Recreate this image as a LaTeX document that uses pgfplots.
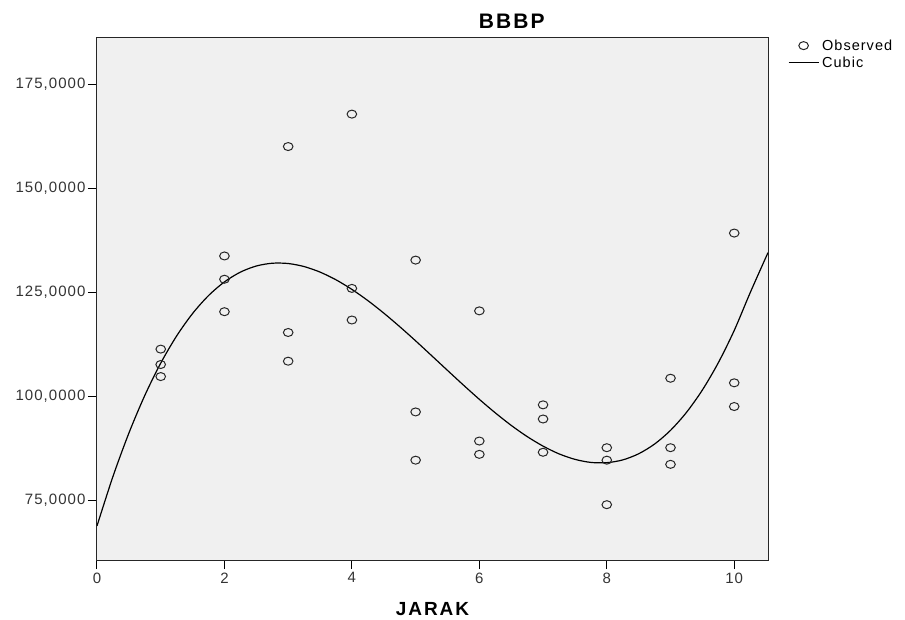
\documentclass[border=0pt]{standalone}
\usepackage{fontspec}
\setmainfont{Liberation Sans}
\newfontfamily\spss[LetterSpace=7]{Liberation Sans}
\newfontfamily\spsstitle[LetterSpace=10]{Liberation Sans}
\usepackage{pgfplots}
\pgfplotsset{compat=1.18}

\definecolor{panel}{RGB}{240,240,240}

\begin{document}
\begin{tikzpicture}
\begin{axis}[
  scale only axis,
  width=671pt, height=522pt,
  xmin=0, xmax=10.53, ymin=60.6, ymax=186.1,
  axis background/.style={fill=panel},
  axis line style={line width=1pt, black!85},
  tick align=outside, major tick length=9pt,
  tick style={line width=1pt, black},
  xtick={0,2,4,6,8,10},
  ytick={75,100,125,150,175},
  yticklabels={{75,0000},{100,0000},{125,0000},{150,0000},{175,0000}},
  xtick pos=bottom, ytick pos=left,
  minor tick num=0,
  tick label style={font=\spss\fontsize{15}{17}\selectfont, black!80},
  yticklabel style={xshift=1pt},
  /pgf/number format/assume math mode=true,
  title={\spsstitle\fontsize{21}{23}\selectfont\bfseries BBBP},
  title style={at={(axis description cs:0.618,1)}, anchor=base, yshift=3.7pt, inner sep=0pt},
  xlabel={\spsstitle\fontsize{19}{21}\selectfont\bfseries JARAK},
  xlabel style={at={(axis description cs:0.5,0)}, anchor=base, yshift=-55pt, inner sep=0pt},
  legend style={at={(axis description cs:1.028,1.003)}, anchor=north west, draw=none, fill=none,
    font=\spss\fontsize{14.5}{16}\selectfont, row sep=1pt, inner sep=1pt,
    nodes={inner xsep=3pt}},
  legend cell align=left,
  clip=true,
]
% observed values
\addplot[only marks, mark=o, mark size=4pt, mark options={xscale=1.2, line width=1pt, black!85},
  legend image code/.code={\draw[mark=o, mark size=4pt, mark options={xscale=1.2, line width=1pt, black!85}]
    plot coordinates {(15pt,0pt)};}]
  coordinates {
  (1,111.3) (1,107.6) (1,104.7)
  (2,133.7) (2,128.1) (2,120.3)
  (3,160.0) (3,115.3) (3,108.4)
  (4,167.8) (4,125.9) (4,118.3)
  (5,132.7) (5,96.2) (5,84.6)
  (6,120.5) (6,89.2) (6,86.0)
  (7,97.9) (7,94.5) (7,86.5)
  (8,87.6) (8,84.6) (8,73.9)
  (9,104.3) (9,87.6) (9,83.6)
  (10,139.2) (10,103.2) (10,97.5)
  };
\addlegendentry{Observed}
% cubic fit
\addplot[smooth, no marks, line width=1.2pt, black,
  legend image code/.code={\draw[line width=1.2pt, black] (0pt,0pt) -- (30pt,0pt);}]
  coordinates {
  (0,68.80) (0.25,80.66) (0.5,91.09) (0.75,100.16) (1,107.93)
  (1.25,114.47) (1.5,119.86) (1.75,124.17) (2,127.46) (2.25,129.81)
  (2.5,131.28) (2.75,131.95) (3,131.88) (3.25,131.15) (3.5,129.82)
  (3.75,127.97) (4,125.66) (4.25,122.97) (4.5,119.96) (4.75,116.71)
  (5,113.29) (5.25,109.75) (5.5,106.19) (5.75,102.66) (6,99.23)
  (6.25,95.98) (6.5,92.97) (6.75,90.28) (7,87.98) (7.25,86.12)
  (7.5,84.80) (7.75,84.06) (8,84.00) (8.25,84.66) (8.5,86.14)
  (8.75,88.48) (9,91.77) (9.25,96.08) (9.5,101.47) (9.75,108.02)
  (10,115.79) (10.25,124.85) (10.53,134.5)
  };
\addlegendentry{Cubic}
\end{axis}
\pgfresetboundingbox
\path (current axis.south west) ++(-97pt,-59pt) rectangle ++(905pt,619pt);
\end{tikzpicture}
\end{document}
